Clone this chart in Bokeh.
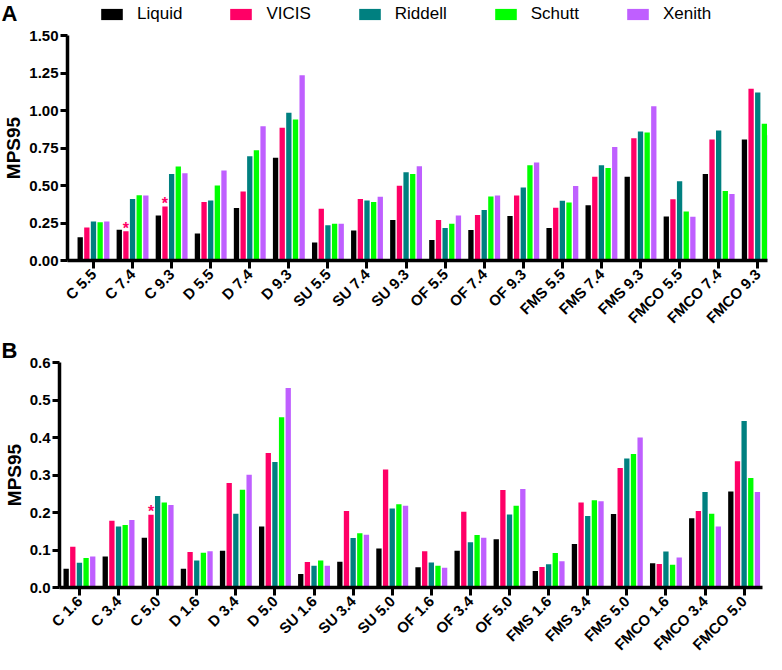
import math
from bokeh.plotting import figure
from bokeh.models import (ColumnDataSource, Range1d, FixedTicker, NumeralTickFormatter,
                          Legend, LegendItem, Label)
from bokeh.layouts import column
from bokeh.transform import dodge
from bokeh.embed import file_html
from bokeh.resources import INLINE
from bokeh.core.properties import value

series = ["Liquid", "VICIS", "Riddell", "Schutt", "Xenith"]
colors = ["#000000", "#FF0066", "#008080", "#00FF00", "#BF5FFF"]

cats_a = ["C 5.5", "C 7.4", "C 9.3", "D 5.5", "D 7.4", "D 9.3", "SU 5.5", "SU 7.4", "SU 9.3",
          "OF 5.5", "OF 7.4", "OF 9.3", "FMS 5.5", "FMS 7.4", "FMS 9.3", "FMCO 5.5", "FMCO 7.4", "FMCO 9.3"]
liquid_a = [0.155, 0.205, 0.300, 0.180, 0.350, 0.685, 0.120, 0.200, 0.270, 0.137, 0.204, 0.296, 0.217, 0.369, 0.558, 0.294, 0.577, 0.807]
vicis_a = [0.220, 0.195, 0.360, 0.390, 0.460, 0.885, 0.345, 0.410, 0.498, 0.270, 0.303, 0.433, 0.352, 0.558, 0.815, 0.408, 0.807, 1.145]
riddell_a = [0.260, 0.410, 0.577, 0.400, 0.695, 0.985, 0.235, 0.400, 0.588, 0.217, 0.337, 0.487, 0.399, 0.635, 0.860, 0.528, 0.867, 1.120]
schutt_a = [0.255, 0.435, 0.627, 0.500, 0.735, 0.940, 0.245, 0.390, 0.577, 0.245, 0.427, 0.635, 0.386, 0.616, 0.854, 0.326, 0.464, 0.912]
xenith_a = [0.260, 0.433, 0.582, 0.600, 0.895, 1.235, 0.245, 0.425, 0.629, 0.300, 0.433, 0.654, 0.496, 0.757, 1.028, 0.292, 0.444, 0.835]
yticks_a = [0.0, 0.25, 0.5, 0.75, 1.0, 1.25, 1.5]
stars_a = [("C 7.4", "VICIS"), ("C 9.3", "VICIS")]

cats_b = ["C 1.6", "C 3.4", "C 5.0", "D 1.6", "D 3.4", "D 5.0", "SU 1.6", "SU 3.4", "SU 5.0",
          "OF 1.6", "OF 3.4", "OF 5.0", "FMS 1.6", "FMS 3.4", "FMS 5.0", "FMCO 1.6", "FMCO 3.4", "FMCO 5.0"]
liquid_b = [0.050, 0.083, 0.133, 0.050, 0.098, 0.163, 0.036, 0.069, 0.104, 0.054, 0.098, 0.129, 0.044, 0.116, 0.196, 0.065, 0.185, 0.256]
vicis_b = [0.109, 0.178, 0.194, 0.095, 0.279, 0.359, 0.068, 0.204, 0.315, 0.097, 0.202, 0.260, 0.055, 0.227, 0.319, 0.063, 0.204, 0.337]
riddell_b = [0.066, 0.163, 0.244, 0.072, 0.197, 0.335, 0.058, 0.132, 0.211, 0.067, 0.121, 0.195, 0.062, 0.191, 0.344, 0.096, 0.255, 0.444]
schutt_b = [0.079, 0.167, 0.227, 0.093, 0.261, 0.454, 0.072, 0.145, 0.222, 0.058, 0.140, 0.218, 0.092, 0.233, 0.356, 0.061, 0.197, 0.292]
xenith_b = [0.083, 0.180, 0.220, 0.097, 0.301, 0.532, 0.058, 0.141, 0.218, 0.053, 0.133, 0.263, 0.070, 0.230, 0.400, 0.080, 0.163, 0.255]
yticks_b = [0.0, 0.1, 0.2, 0.3, 0.4, 0.5, 0.6]
stars_b = [("C 5.0", "VICIS")]

FONT = "Liberation Sans"
PITCH = 0.17
BARW = 0.136
W = 766


def make_source(cats, values):
    data = {"x": list(range(len(cats)))}
    for s, v in zip(series, values):
        data[s] = v
    return ColumnDataSource(data)


def add_bars(p, src):
    return [p.vbar(x=dodge("x", (k - 2) * PITCH), top=s, width=BARW, bottom=0,
                   source=src, fill_color=c, line_color=None)
            for k, (s, c) in enumerate(zip(series, colors))]


def make_header(letter, src, height):
    # strip above panel A: panel letter + legend (bars of this strip lie outside its ranges)
    h = figure(width=W, height=height, output_backend="svg", toolbar_location=None, title=None,
               x_range=Range1d(1000, 1000 + W), y_range=Range1d(1000, 1000 + height),
               x_axis_location=None, y_axis_location=None, frame_align=False,
               min_border=0, min_border_left=0, min_border_right=0,
               min_border_top=0, min_border_bottom=0)
    h.outline_line_color = None
    h.grid.visible = False
    rs = add_bars(h, src)
    h.add_layout(Label(x=1, y=height, x_units="screen", y_units="screen", text=letter,
                       text_font=FONT, text_font_style="bold", text_font_size="22px",
                       text_baseline="top", text_color="black"))
    items = [LegendItem(label=s, renderers=[r]) for s, r in zip(series, rs)]
    leg = Legend(items=items, orientation="horizontal", location=(98, 2),
                 glyph_width=27, glyph_height=14, label_standoff=12, spacing=45,
                 label_height=14, padding=0, margin=0, border_line_color=None,
                 background_fill_alpha=0,
                 label_text_font=FONT, label_text_font_size="17px",
                 label_text_color="black")
    h.add_layout(leg, "center")
    return h


def make_panel(cats, values, src, yticks, fmt, letter, frame, border, xr, stars):
    fw, fh = frame
    left, right, top, bottom = border
    p = figure(frame_width=fw, frame_height=fh, output_backend="svg", toolbar_location=None,
               x_range=Range1d(*xr), y_range=Range1d(yticks[0], yticks[-1]),
               frame_align=False,
               min_border_left=left, min_border_right=right,
               min_border_top=top, min_border_bottom=bottom)
    p.outline_line_color = None
    p.grid.visible = False
    add_bars(p, src)

    # significance asterisks above the marked bars
    sdata = {"x": [], "y": [], "t": []}
    for cat, ser in stars:
        i = cats.index(cat)
        k = series.index(ser)
        sdata["x"].append(i + (k - 2) * PITCH)
        sdata["y"].append(values[k][i])
        sdata["t"].append("*")
    if stars:
        p.text(x="x", y="y", text="t", source=ColumnDataSource(sdata), text_color="#FF0066",
               text_font=value(FONT), text_font_style="bold", text_font_size="16px",
               text_align="center", text_baseline="middle", y_offset=-3)

    xa = p.xaxis[0]
    xa.ticker = FixedTicker(ticks=list(range(len(cats))))
    xa.major_label_overrides = {i: c for i, c in enumerate(cats)}
    xa.major_label_orientation = math.pi / 4
    xa.major_label_text_font = FONT
    xa.major_label_text_font_style = "bold"
    xa.major_label_text_font_size = "15px"
    xa.major_label_text_color = "black"
    xa.major_label_standoff = 3
    xa.axis_line_width = 3.5
    xa.axis_line_color = "black"
    xa.major_tick_line_width = 3
    xa.major_tick_line_color = "black"
    xa.major_tick_out = 8
    xa.major_tick_in = 0
    xa.minor_tick_line_color = None

    ya = p.yaxis[0]
    ya.ticker = FixedTicker(ticks=yticks)
    ya.formatter = NumeralTickFormatter(format=fmt)
    ya.major_label_text_font = FONT
    ya.major_label_text_font_style = "bold"
    ya.major_label_text_font_size = "15px"
    ya.major_label_text_color = "black"
    ya.major_label_standoff = 2
    ya.axis_line_width = 3.5
    ya.axis_line_color = "black"
    ya.major_tick_line_width = 3
    ya.major_tick_line_color = "black"
    ya.major_tick_out = 7
    ya.major_tick_in = 0
    ya.minor_tick_line_color = None
    ya.axis_label = "MPS95"
    ya.axis_label_text_font = FONT
    ya.axis_label_text_font_style = "bold"
    ya.axis_label_text_font_size = "19px"
    ya.axis_label_text_color = "black"
    ya.axis_label_standoff = 2

    if letter:
        p.title.text = letter
        p.title.align = "left"
        p.title.offset = -left + 1
        p.title.standoff = 0
        p.title.text_font = FONT
        p.title.text_font_style = "bold"
        p.title.text_font_size = "22px"
        p.title.text_color = "black"
    return p


src_a = make_source(cats_a, [liquid_a, vicis_a, riddell_a, schutt_a, xenith_a])
src_b = make_source(cats_b, [liquid_b, vicis_b, riddell_b, schutt_b, xenith_b])

head_a = make_header("A", src_a, 26)
pa = make_panel(cats_a, [liquid_a, vicis_a, riddell_a, schutt_a, xenith_a], src_a, yticks_a, "0.00", None,
                (700, 225), (64, 2, 9, 70), (-0.665, 17.25), stars_a)
pb = make_panel(cats_b, [liquid_b, vicis_b, riddell_b, schutt_b, xenith_b], src_b, yticks_b, "0.0", "B",
                (703, 225), (59, 4, 22, 70), (-0.51, 17.47), stars_b)

layout = column(head_a, pa, pb, spacing=0)
open("out.html", "w").write(file_html(layout, INLINE))
